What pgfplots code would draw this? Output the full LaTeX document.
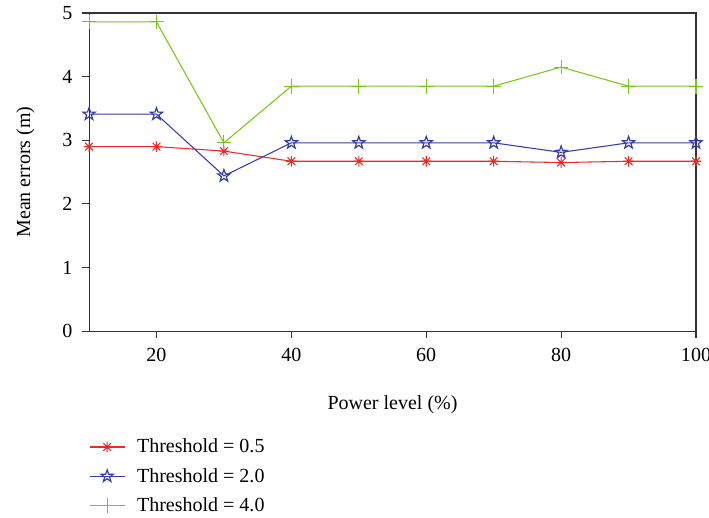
\documentclass[border=0pt]{standalone}
\usepackage{pgfplots}
\pgfplotsset{compat=1.18}
\usepackage{fontspec}
\setmainfont{Liberation Serif}
\definecolor{cred}{RGB}{230,45,40}
\definecolor{cblue}{RGB}{55,60,170}
\definecolor{cgreen}{RGB}{120,200,20}
\pgfdeclareplotmark{ostar}{%
  \pgfpathmoveto{\pgfpointpolar{90}{\pgfplotmarksize}}%
  \pgfpathlineto{\pgfpointpolar{126}{0.4\pgfplotmarksize}}%
  \pgfpathlineto{\pgfpointpolar{162}{\pgfplotmarksize}}%
  \pgfpathlineto{\pgfpointpolar{198}{0.4\pgfplotmarksize}}%
  \pgfpathlineto{\pgfpointpolar{234}{\pgfplotmarksize}}%
  \pgfpathlineto{\pgfpointpolar{270}{0.4\pgfplotmarksize}}%
  \pgfpathlineto{\pgfpointpolar{306}{\pgfplotmarksize}}%
  \pgfpathlineto{\pgfpointpolar{342}{0.4\pgfplotmarksize}}%
  \pgfpathlineto{\pgfpointpolar{18}{\pgfplotmarksize}}%
  \pgfpathlineto{\pgfpointpolar{54}{0.4\pgfplotmarksize}}%
  \pgfpathclose
  \pgfusepathqstroke}
\pgfdeclareplotmark{mast}{%
  \pgfpathmoveto{\pgfpoint{-\pgfplotmarksize}{0pt}}\pgfpathlineto{\pgfpoint{\pgfplotmarksize}{0pt}}%
  \pgfpathmoveto{\pgfpoint{0pt}{-\pgfplotmarksize}}\pgfpathlineto{\pgfpoint{0pt}{\pgfplotmarksize}}%
  \pgfpathmoveto{\pgfpoint{-0.72\pgfplotmarksize}{-0.72\pgfplotmarksize}}\pgfpathlineto{\pgfpoint{0.72\pgfplotmarksize}{0.72\pgfplotmarksize}}%
  \pgfpathmoveto{\pgfpoint{-0.72\pgfplotmarksize}{0.72\pgfplotmarksize}}\pgfpathlineto{\pgfpoint{0.72\pgfplotmarksize}{-0.72\pgfplotmarksize}}%
  \pgfusepathqstroke}
\begin{document}
\begin{tikzpicture}
\begin{axis}[
  scale only axis,
  width=455pt, height=238.5pt,
  xmin=10, xmax=100, ymin=0, ymax=5,
  xtick={20,40,60,80,100},
  ytick={0,1,2,3,4,5},
  tick align=outside,
  tick pos=left,
  major tick length=5pt,
  axis line style={draw=black!80, line width=0.8pt},
  tick style={black!80, line width=0.8pt},
  /pgf/number format/assume math mode=true,
  ticklabel style={font=\fontsize{15}{17}\selectfont},
  xticklabel style={yshift=-4pt},
  yticklabel style={xshift=-4pt},
  label style={font=\fontsize{15}{17}\selectfont},
  xlabel={Power level (\%)},
  ylabel={Mean errors (m)},
  xlabel style={yshift=-19pt},
  ylabel style={yshift=14pt},
  legend style={at={(axis description cs:0,-0.33)}, anchor=north west,
    draw=none, fill=none, inner sep=0pt, row sep=6pt,
    font=\fontsize{15}{17}\selectfont,
    nodes={inner xsep=9pt}},
  legend cell align=left,
  legend image code/.code={
    \draw[#1, mark repeat=2, mark phase=2] plot coordinates {(-1.5pt,0pt) (11.5pt,0pt) (24.5pt,0pt)};
  },
  clip=false,
]
\addplot[cred, line width=0.8pt, mark=mast, mark size=4pt, mark options={line width=0.8pt}] coordinates {
(10,2.90) (20,2.90) (30,2.83) (40,2.67) (50,2.67) (60,2.67) (70,2.67) (80,2.65) (90,2.67) (100,2.67)};
\addlegendentry{Threshold = 0.5}
\addplot[cblue, line width=0.8pt, mark=ostar, mark size=4.8pt, mark options={line width=0.9pt}] coordinates {
(10,3.41) (20,3.41) (30,2.44) (40,2.96) (50,2.96) (60,2.96) (70,2.96) (80,2.81) (90,2.96) (100,2.96)};
\addlegendentry{Threshold = 2.0}
\addplot[cgreen, line width=0.8pt, mark=+, mark size=5.5pt, mark options={line width=0.8pt}] coordinates {
(10,4.86) (20,4.86) (30,2.96) (40,3.85) (50,3.85) (60,3.85) (70,3.85) (80,4.15) (90,3.85) (100,3.85)};
\addlegendentry{Threshold = 4.0}
\end{axis}
\pgfresetboundingbox
\path[use as bounding box] (-66.75pt,-139.5pt) rectangle (464.75pt,248.25pt);
\end{tikzpicture}
\end{document}
